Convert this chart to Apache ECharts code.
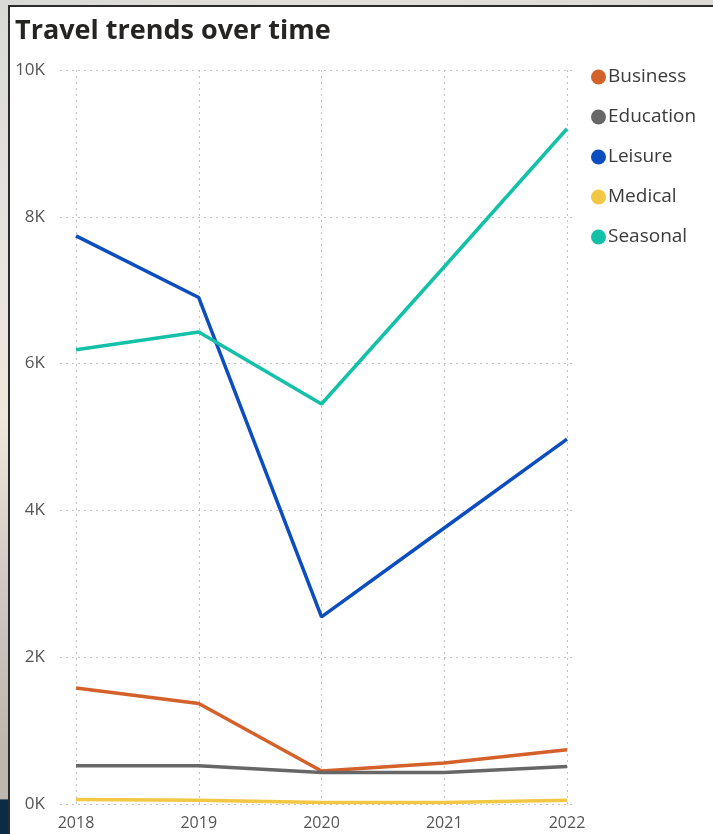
<!DOCTYPE html>
<html>
<head>
<meta charset="utf-8">
<script src="https://cdn.jsdelivr.net/npm/echarts@6/dist/echarts.min.js"></script>
<style>
  html, body { margin: 0; padding: 0; width: 713px; height: 834px; overflow: hidden; background: #ffffff; }
  #leftstrip { position: absolute; left: 0; top: 0; width: 9px; height: 834px; background: linear-gradient(180deg, #d9d9d7 0%, #e6e4df 30%, #efe9dc 50%, #cfcac2 70%, #bdb7ad 90%, #bdb7ad 95.8%, #0b2c47 95.9%, #0b2c47 100%); }
  #topstrip { position: absolute; left: 0; top: 0; width: 713px; height: 5px; background: linear-gradient(90deg, #d9d9d7, #e2e0dc 50%, #dcdad6); }
  #panel { position: absolute; left: 8px; top: 5px; width: 760px; height: 880px; background: #ffffff; border-left: 2px solid #2b2b2b; border-top: 2px solid #2b2b2b; }
  #chart { position: absolute; left: 0; top: 0; width: 713px; height: 834px; }
</style>
</head>
<body>
<div id="leftstrip"></div>
<div id="topstrip"></div>
<div id="panel"></div>
<div id="chart"></div>
<script>
const years = ['2018', '2019', '2020', '2021', '2022'];
const business = [1580, 1370, 450, 560, 740];
const education = [520, 520, 430, 430, 510];
const leisure = [7740, 6900, 2550, 3760, 4970];
const medical = [60, 50, 20, 20, 50];
const seasonal = [6190, 6430, 5450, 7320, 9200];
const yTicks = [0, 2000, 4000, 6000, 8000, 10000];

const seriesNames = ['Business', 'Education', 'Leisure', 'Medical', 'Seasonal'];
const seriesData = [business, education, leisure, medical, seasonal];
const colors = ['#D4602A', '#676767', '#0C4EBF', '#F2C744', '#13C0A8'];

const chart = echarts.init(document.getElementById('chart'), null, { renderer: 'canvas' });
const dotted = { type: [2, 4], color: '#c4c4c4', width: 1 };

chart.setOption({
  backgroundColor: 'transparent',
  animation: false,
  color: colors,
  title: {
    text: 'Travel trends over time',
    left: 10, top: 13,
    textStyle: { fontFamily: 'Open Sans', fontWeight: 'bold', fontSize: 27, color: '#252423' }
  },
  legend: {
    orient: 'vertical',
    left: 586, top: 62,
    icon: 'circle',
    itemWidth: 15, itemHeight: 15,
    itemGap: 20,
    data: seriesNames,
    textStyle: { fontFamily: 'Open Sans', fontSize: 19, color: '#3a3a3a', lineHeight: 20, padding: [0, 0, 0, -3] }
  },
  grid: [
    { left: 76, right: 146, top: 70, bottom: 30 },
    { left: 60, right: 138, top: 70, bottom: 30 }
  ],
  xAxis: [
    {
      gridIndex: 0, type: 'category', data: years, boundaryGap: false,
      axisLine: { show: false }, axisTick: { show: false },
      axisLabel: { fontFamily: 'Open Sans', fontSize: 16, color: '#555', margin: 11 },
      splitLine: { show: true, lineStyle: dotted }
    },
    { gridIndex: 1, type: 'value', min: 0, max: 1, show: false }
  ],
  yAxis: [
    { gridIndex: 0, type: 'value', min: 0, max: 10000, interval: 2000, show: false, splitLine: { show: false } },
    {
      gridIndex: 1, type: 'value', min: yTicks[0], max: yTicks[yTicks.length - 1], interval: 2000,
      axisLine: { show: false }, axisTick: { show: false },
      axisLabel: { fontFamily: 'Open Sans', fontSize: 17, color: '#555', margin: 15,
        formatter: v => (v / 1000) + 'K' },
      splitLine: { show: true, lineStyle: dotted }
    }
  ],
  series: seriesNames.map((n, i) => ({
    name: n, type: 'line', xAxisIndex: 0, yAxisIndex: 0,
    data: seriesData[i], showSymbol: false, smooth: false,
    lineStyle: { width: 3.5, color: colors[i] },
    itemStyle: { color: colors[i] }
  }))
});
</script>
</body>
</html>
